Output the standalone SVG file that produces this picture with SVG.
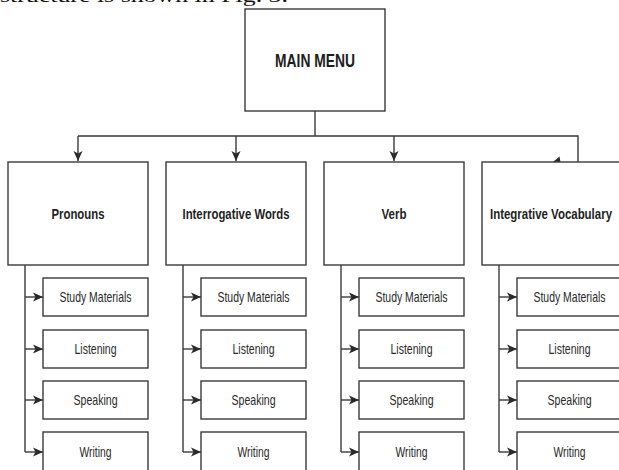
<svg xmlns="http://www.w3.org/2000/svg" width="619" height="470" viewBox="0 0 619 470">
  <defs>
    <style>
      .box { fill: #ffffff; stroke: #3a3a3a; stroke-width: 1.4; }
      .wire { fill: none; stroke: #3a3a3a; stroke-width: 1.4; }
      .head { font-family: "Liberation Sans", Arial, sans-serif; font-weight: bold; fill: #1e1e1e; text-anchor: middle; }
      .item { font-family: "Liberation Sans", Arial, sans-serif; font-size: 14.5px; fill: #2a2a2a; text-anchor: middle; }
      .caption { font-family: "Liberation Serif", "Times New Roman", serif; font-size: 18px; fill: #111; }
    </style>
    <marker id="arrow" viewBox="0 0 10 10" refX="10" refY="5" markerWidth="10" markerHeight="10" markerUnits="userSpaceOnUse" orient="auto">
      <path d="M0,0.5 L10,5 L0,9.5 L2.5,5 Z" fill="#2a2a2a"/>
    </marker>
  </defs>
  <rect width="619" height="470" fill="#ffffff"/>

  <!-- running text line above the chart, clipped at the top edge -->
  <text class="caption" x="0" y="2" textLength="288" lengthAdjust="spacingAndGlyphs">structure is shown in Fig. 3.</text>

  <!-- connectors -->
  <g id="connectors">
    <path class="wire" d="M315,111 V136 M78,136 H578 V162"/>
    <path class="wire" d="M78,136 V161" marker-end="url(#arrow)"/>
    <path class="wire" d="M236,136 V161" marker-end="url(#arrow)"/>
    <path class="wire" d="M394,136 V161" marker-end="url(#arrow)"/>
    <polygon points="553,162 559.5,156.5 560.5,162" fill="#2a2a2a"/>

    <!-- Pronouns branch -->
    <path class="wire" d="M25,265 V452"/>
    <path class="wire" d="M25,297 H43" marker-end="url(#arrow)"/>
    <path class="wire" d="M25,349 H43" marker-end="url(#arrow)"/>
    <path class="wire" d="M25,400 H43" marker-end="url(#arrow)"/>
    <path class="wire" d="M25,452 H43" marker-end="url(#arrow)"/>

    <!-- Interrogative Words branch -->
    <path class="wire" d="M183,265 V452"/>
    <path class="wire" d="M183,297 H201" marker-end="url(#arrow)"/>
    <path class="wire" d="M183,349 H201" marker-end="url(#arrow)"/>
    <path class="wire" d="M183,400 H201" marker-end="url(#arrow)"/>
    <path class="wire" d="M183,452 H201" marker-end="url(#arrow)"/>

    <!-- Verb branch -->
    <path class="wire" d="M341,265 V452"/>
    <path class="wire" d="M341,297 H359" marker-end="url(#arrow)"/>
    <path class="wire" d="M341,349 H359" marker-end="url(#arrow)"/>
    <path class="wire" d="M341,400 H359" marker-end="url(#arrow)"/>
    <path class="wire" d="M341,452 H359" marker-end="url(#arrow)"/>

    <!-- Integrative Vocabulary branch -->
    <path class="wire" d="M499,265 V452"/>
    <path class="wire" d="M499,297 H517" marker-end="url(#arrow)"/>
    <path class="wire" d="M499,349 H517" marker-end="url(#arrow)"/>
    <path class="wire" d="M499,400 H517" marker-end="url(#arrow)"/>
    <path class="wire" d="M499,452 H517" marker-end="url(#arrow)"/>
  </g>

  <!-- root -->
  <g id="main-menu">
    <rect class="box" x="245" y="9" width="140" height="102"/>
    <text class="head" x="315" y="67" font-size="18" textLength="80" lengthAdjust="spacingAndGlyphs">MAIN MENU</text>
  </g>

  <!-- categories -->
  <g id="pronouns">
    <rect class="box" x="8" y="162" width="140" height="103"/>
    <text class="head" x="78" y="219" font-size="15" textLength="53" lengthAdjust="spacingAndGlyphs">Pronouns</text>
  </g>
  <g id="interrogative-words">
    <rect class="box" x="166" y="162" width="140" height="103"/>
    <text class="head" x="236" y="219" font-size="15" textLength="107" lengthAdjust="spacingAndGlyphs">Interrogative Words</text>
  </g>
  <g id="verb">
    <rect class="box" x="324" y="162" width="140" height="103"/>
    <text class="head" x="394" y="219" font-size="15" textLength="25" lengthAdjust="spacingAndGlyphs">Verb</text>
  </g>
  <g id="integrative-vocabulary">
    <rect class="box" x="482" y="162" width="145" height="103"/>
    <text class="head" x="551" y="219" font-size="15" textLength="122" lengthAdjust="spacingAndGlyphs">Integrative Vocabulary</text>
  </g>

  <!-- Pronouns items -->
  <g id="pronouns-study">
    <rect class="box" x="43" y="278" width="105" height="38"/>
    <text class="item" x="95.5" y="302" textLength="72" lengthAdjust="spacingAndGlyphs">Study Materials</text>
  </g>
  <g id="pronouns-listening">
    <rect class="box" x="43" y="330" width="105" height="38"/>
    <text class="item" x="95.5" y="354" textLength="42" lengthAdjust="spacingAndGlyphs">Listening</text>
  </g>
  <g id="pronouns-speaking">
    <rect class="box" x="43" y="381" width="105" height="38"/>
    <text class="item" x="95.5" y="405" textLength="44" lengthAdjust="spacingAndGlyphs">Speaking</text>
  </g>
  <g id="pronouns-writing">
    <rect class="box" x="43" y="432" width="105" height="44"/>
    <text class="item" x="95.5" y="456.5" textLength="32" lengthAdjust="spacingAndGlyphs">Writing</text>
  </g>

  <!-- Interrogative Words items -->
  <g id="interrogative-study">
    <rect class="box" x="201" y="278" width="105" height="38"/>
    <text class="item" x="253.5" y="302" textLength="72" lengthAdjust="spacingAndGlyphs">Study Materials</text>
  </g>
  <g id="interrogative-listening">
    <rect class="box" x="201" y="330" width="105" height="38"/>
    <text class="item" x="253.5" y="354" textLength="42" lengthAdjust="spacingAndGlyphs">Listening</text>
  </g>
  <g id="interrogative-speaking">
    <rect class="box" x="201" y="381" width="105" height="38"/>
    <text class="item" x="253.5" y="405" textLength="44" lengthAdjust="spacingAndGlyphs">Speaking</text>
  </g>
  <g id="interrogative-writing">
    <rect class="box" x="201" y="432" width="105" height="44"/>
    <text class="item" x="253.5" y="456.5" textLength="32" lengthAdjust="spacingAndGlyphs">Writing</text>
  </g>

  <!-- Verb items -->
  <g id="verb-study">
    <rect class="box" x="359" y="278" width="105" height="38"/>
    <text class="item" x="411.5" y="302" textLength="72" lengthAdjust="spacingAndGlyphs">Study Materials</text>
  </g>
  <g id="verb-listening">
    <rect class="box" x="359" y="330" width="105" height="38"/>
    <text class="item" x="411.5" y="354" textLength="42" lengthAdjust="spacingAndGlyphs">Listening</text>
  </g>
  <g id="verb-speaking">
    <rect class="box" x="359" y="381" width="105" height="38"/>
    <text class="item" x="411.5" y="405" textLength="44" lengthAdjust="spacingAndGlyphs">Speaking</text>
  </g>
  <g id="verb-writing">
    <rect class="box" x="359" y="432" width="105" height="44"/>
    <text class="item" x="411.5" y="456.5" textLength="32" lengthAdjust="spacingAndGlyphs">Writing</text>
  </g>

  <!-- Integrative Vocabulary items -->
  <g id="integrative-study">
    <rect class="box" x="517" y="278" width="110" height="38"/>
    <text class="item" x="569.5" y="302" textLength="72" lengthAdjust="spacingAndGlyphs">Study Materials</text>
  </g>
  <g id="integrative-listening">
    <rect class="box" x="517" y="330" width="110" height="38"/>
    <text class="item" x="569.5" y="354" textLength="42" lengthAdjust="spacingAndGlyphs">Listening</text>
  </g>
  <g id="integrative-speaking">
    <rect class="box" x="517" y="381" width="110" height="38"/>
    <text class="item" x="569.5" y="405" textLength="44" lengthAdjust="spacingAndGlyphs">Speaking</text>
  </g>
  <g id="integrative-writing">
    <rect class="box" x="517" y="432" width="110" height="44"/>
    <text class="item" x="569.5" y="456.5" textLength="32" lengthAdjust="spacingAndGlyphs">Writing</text>
  </g>
</svg>
